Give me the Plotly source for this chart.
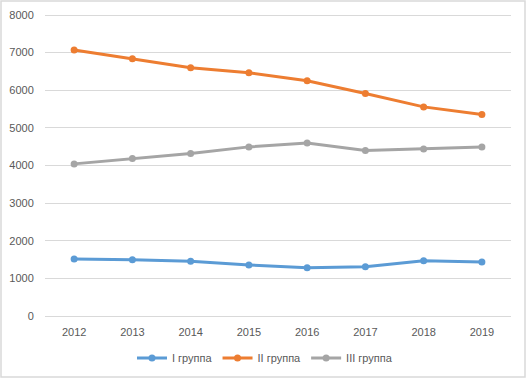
import plotly.graph_objects as go

years = ["2012", "2013", "2014", "2015", "2016", "2017", "2018", "2019"]
group1 = [1515, 1497, 1455, 1356, 1285, 1311, 1471, 1436]
group2 = [7070, 6835, 6598, 6463, 6250, 5912, 5558, 5354]
group3 = [4043, 4184, 4316, 4495, 4601, 4396, 4441, 4495]
names = ["I группа", "II группа", "III группа"]
colors = ["#5B9BD5", "#ED7D31", "#A5A5A5"]

W, H = 528, 379
ml, mr, mt, mb = 45, 17, 13, 61
pw, ph = W - ml - mr, H - mt - mb
pad = 2 * 8000 / 301  # keep edge gridlines inside the plot area
bottom_px = H - mb

fig = go.Figure()
for vals, name, col in zip([group1, group2, group3], names, colors):
    fig.add_trace(go.Scatter(
        x=years, y=vals, name=name, mode="lines+markers",
        line=dict(color=col, width=3),
        marker=dict(color=col, size=7),
    ))

font = dict(family="Liberation Sans, Arial, sans-serif", size=11, color="#595959")

fig.update_layout(
    width=W, height=H,
    margin=dict(l=ml, r=mr, t=mt, b=mb, autoexpand=False),
    paper_bgcolor="white", plot_bgcolor="white",
    font=font,
    showlegend=True,
    legend=dict(orientation="h", x=(265 - ml) / pw, xanchor="center",
                y=-(358 - bottom_px) / ph, yanchor="middle", font=font,
                itemwidth=30, tracegroupgap=0),
    xaxis=dict(type="category", range=[-0.5, 7.5], showgrid=False, showline=False,
               ticks="outside", ticklen=4, tickcolor="rgba(0,0,0,0)", tickfont=font,
               zeroline=False),
    yaxis=dict(range=[-pad, 8000 + pad], tickvals=list(range(0, 8001, 1000)),
               showgrid=True, gridcolor="#D9D9D9", gridwidth=1, zeroline=False,
               showline=False, ticks="outside", ticklen=8,
               tickcolor="rgba(0,0,0,0)", tickfont=font),
    shapes=[dict(type="rect", xref="paper", yref="paper",
                 x0=(1 - ml) / pw, x1=(525 - ml) / pw,
                 y0=(bottom_px - 377) / ph, y1=(bottom_px - 1) / ph,
                 line=dict(color="#D9D9D9", width=1.5), layer="below")],
)

fig.write_html("out.html", config={"displayModeBar": False},
               post_script="document.body.style.margin='0';document.body.style.overflow='hidden';")
